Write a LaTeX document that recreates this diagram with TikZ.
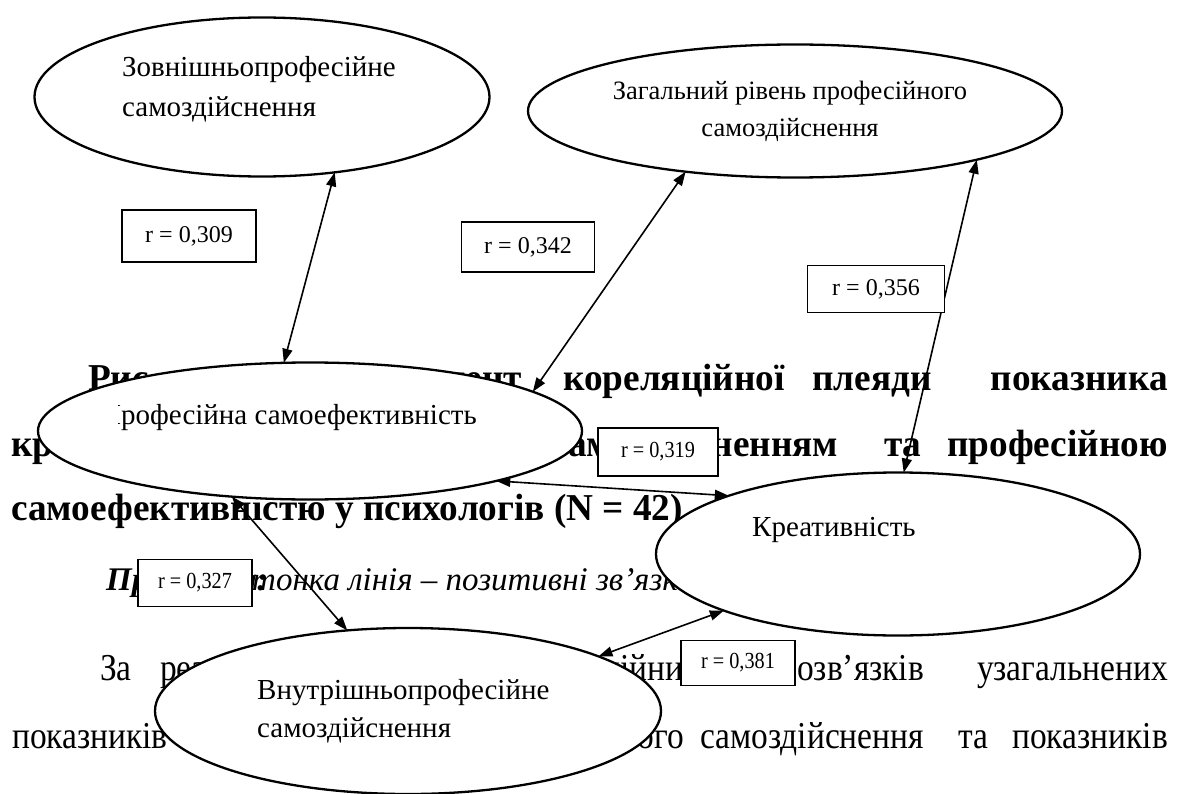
\documentclass[tikz,border=0pt]{standalone}
\usepackage{fontspec}
\setmainfont{Liberation Serif}
\newfontfamily\bgf[FakeStretch=0.88]{Liberation Serif}
\newfontfamily\bgbf[FakeStretch=0.98]{Liberation Serif}
\newfontfamily\smf[FakeStretch=0.88]{Liberation Serif}
\usetikzlibrary{shapes.geometric,arrows.meta}
\begin{document}
\begin{tikzpicture}[x=1pt,y=-1pt,
  ell/.style={ellipse, draw, fill=white, line width=2.3pt, inner sep=0pt, outer sep=0pt},
  lab/.style={inner sep=0pt, anchor=base west, font=\fontsize{29}{29}\selectfont},
  labb/.style={inner sep=0pt, anchor=base, font=\fontsize{26.5}{26.5}\selectfont},
  bg/.style={inner sep=0pt, anchor=base west, font=\bgf\fontsize{38}{38}\selectfont},
  bgb/.style={inner sep=0pt, anchor=base west, font=\bgbf\bfseries\fontsize{38}{38}\selectfont},
  bgi/.style={inner sep=0pt, anchor=base west, font=\itshape\fontsize{33}{33}\selectfont},
  rbox/.style={draw, fill=white, line width=1.8pt, inner sep=0pt, font=\fontsize{24}{24}\selectfont},
  rboxs/.style={draw, fill=white, line width=1.8pt, inner sep=0pt, font=\smf\fontsize{23}{23}\selectfont},
  con/.style={line width=1.6pt, {Triangle[length=14pt,width=10pt]}-{Triangle[length=14pt,width=10pt]}}
]
\fill[white] (0,0) rectangle (1185,794);
\useasboundingbox (0,0) rectangle (1185,794);

% background document text
\node[bgb] (t1a) at (88,390) {Рис.};
\node[bgb,anchor=base east] (t1b) at (522,390) {Фрагмент};
\node[bgb] (t1c) at (563,390) {кореляційної};
\node[bgb] (t1d) at (812,390) {плеяди};
\node[bgb,anchor=base east] (t1e) at (1168,390) {показника};
\node[bgb] (t2a) at (11,456) {креативності};
\node[bgb] (t2b) at (551,456) {самоздійсненням};
\node[bgb] (t2c) at (884,456) {та};
\node[bgb,anchor=base east] (t2d) at (1168,456) {професійною};
\node[bgb] (t3a) at (11,520) {самоефективністю у психологів (N = 42)};
\node[bgi] (t4a) at (106,590) {\bfseries Примітка:};
\node[bgi] (t4b) at (252,590) {тонка лінія – позитивні зв’язки};
\node[bg] (t5a) at (100,680) {За};
\node[bg] (t5b) at (160,680) {результатами};
\node[bg,anchor=base east] (t5c) at (700,680) {кореляційних};
\node[bg] (t5d) at (797,680) {озв’язків};
\node[bg,anchor=base east] (t5e) at (1168,680) {узагальнених};
\node[bg] (t6a) at (12,748) {показників};
\node[bg,anchor=base east] (t6b) at (684,748) {професійного};
\node[bg] (t6c) at (700,748) {самоздійснення};
\node[bg] (t6d) at (958,748) {та};
\node[bg,anchor=base east] (t6e) at (1168,748) {показників};

% ellipses
\node[ell, minimum width=455pt, minimum height=159pt] (A) at (262,97) {};
\node[ell, minimum width=534pt, minimum height=133pt] (B) at (795,111) {};
\node[ell, minimum width=544pt, minimum height=137pt] (C) at (310,431) {};
\node[ell, minimum width=484pt, minimum height=163pt] (D) at (898,554) {};
\node[ell, minimum width=506pt, minimum height=166pt] (E) at (408,711) {};

% ellipse labels
\node[lab] (a1) at (122,77) {Зовнішньопрофесійне};
\node[lab] (a2) at (122,117) {самоздійснення};
\node[labb] (b1) at (790,100) {Загальний рівень професійного};
\node[labb] (b2) at (790,137) {самоздійснення};
\begin{scope}
\clip (118,380) rectangle (560,440);
\node[lab] (c1) at (100,424) {Професійна самоефективність};
\end{scope}
\node[lab] (d1) at (752,536) {Креативність};
\node[lab] (e1) at (257,699) {Внутрішньопрофесійне};
\node[lab] (e2) at (257,737) {самоздійснення};

% connectors
\draw[con] (A.-46.1) -- (C.111.7);
\draw[con] (B.-151.1) -- (C.10.8);
\draw[con] (B.-15.8) -- (D.86.5);
\draw[con] (C.-15.3) -- (D.161);
\draw[con] (C.-140) -- (E.127.6);
\draw[con] (D.198.7) -- (E.16.8);

% coefficient boxes
\node[rbox, minimum width=134pt, minimum height=52pt] (r1) at (189,236) {r = 0,309};
\node[rbox, minimum width=133pt, minimum height=50pt] (r2) at (528,247) {r = 0,342};
\node[rbox, minimum width=137pt, minimum height=47pt] (r3) at (876,289) {r = 0,356};
\node[rboxs, minimum width=120pt, minimum height=48pt] (r4) at (658,452) {r = 0,319};
\node[rboxs, minimum width=114pt, minimum height=47pt] (r5) at (195,583) {r = 0,327};
\node[rboxs, minimum width=114pt, minimum height=45pt] (r6) at (738,663) {r = 0,381};
\end{tikzpicture}
\end{document}
